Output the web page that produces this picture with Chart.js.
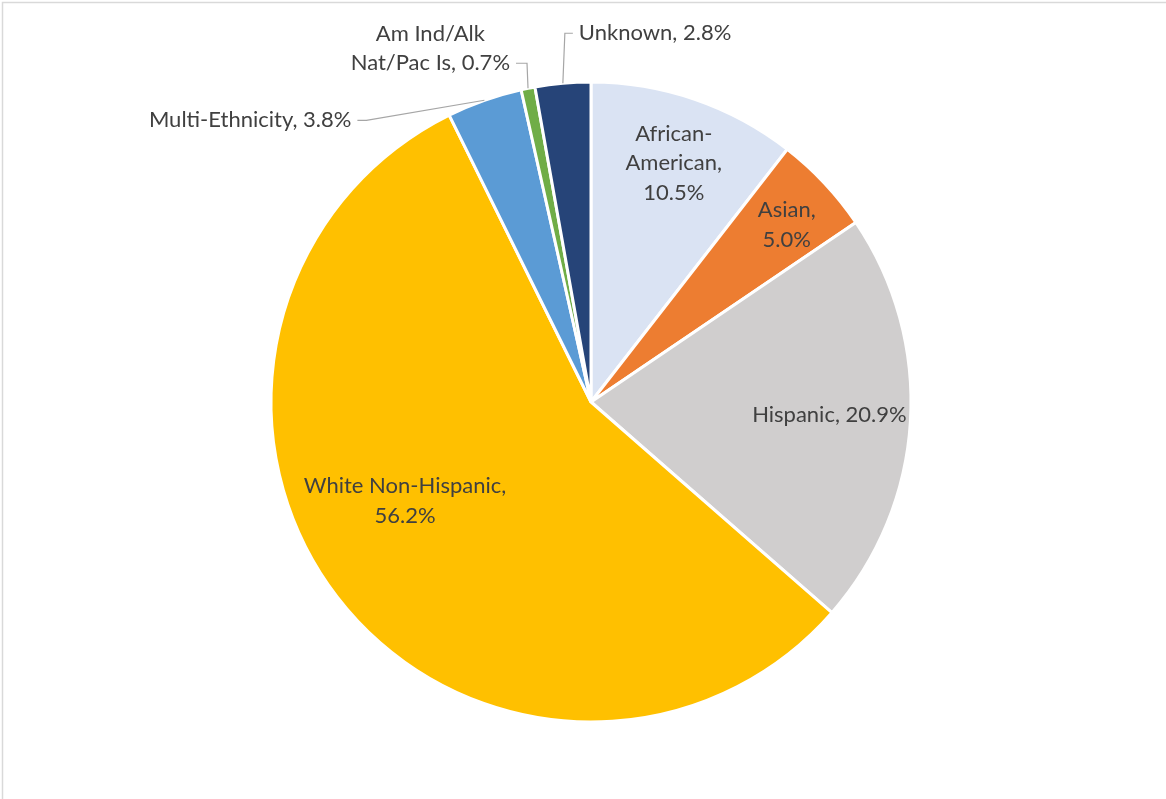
<!DOCTYPE html>
<html>
<head>
<meta charset="utf-8">
<script src="https://cdn.jsdelivr.net/npm/chart.js@4.4.1/dist/chart.umd.min.js"></script>
<style>
  html, body { margin: 0; padding: 0; background: #ffffff; }
  #wrap { position: relative; width: 1166px; height: 799px; }
  canvas { display: block; }
</style>
</head>
<body>
<div id="wrap"><canvas id="c" width="1166" height="799"></canvas></div>
<script>
// ---- Data ----
const categories = ["African-American", "Asian", "Hispanic", "White Non-Hispanic", "Multi-Ethnicity", "Am Ind/Alk Nat/Pac Is", "Unknown"];
const values = [10.5, 5.0, 20.9, 56.2, 3.8, 0.7, 2.8];
const colors = ["#DAE3F3", "#ED7D31", "#D0CECE", "#FFC000", "#5B9BD5", "#70AD47", "#264478"];

// ---- Label layout (style only) ----
// line templates: {v} is replaced with the value
const labelLines = [
  ["African-", "American,", "{v}"],
  ["Asian,", "{v}"],
  ["Hispanic, {v}"],
  ["White Non-Hispanic,", "{v}"],
  ["Multi-Ethnicity, {v}"],
  ["Am Ind/Alk", "Nat/Pac Is, {v}"],
  ["Unknown, {v}"]
];
// inside labels: radius fraction + angle tweak (deg); outside: leader + text offsets
const labelPlace = [
  { type: "in", r: 0.79, da: 0.2 },
  { type: "in", r: 0.825, da: 1.0 },
  { type: "in", r: 0.746, da: -0.5 },
  { type: "in", r: 0.658, da: 9.6 },
  { type: "out", elbow: [-118, 20], textEnd: [-131, 20], align: "right" },
  { type: "out", elbow: [-1, -25], textEnd: [-16, -25], align: "right" },
  { type: "out", elbow: [2, -50], textEnd: [14, -50], align: "left" }
];

const fontFamily = "Lato, 'Open Sans', sans-serif";
const fontSize = 22;
const lineH = 29.5;
const textColor = "#404040";

const frame = {
  id: "frame",
  beforeDraw(chart) {
    const ctx = chart.ctx;
    ctx.save();
    ctx.fillStyle = "#ffffff";
    ctx.fillRect(0, 0, chart.width, chart.height);
    ctx.strokeStyle = "#D9D9D9";
    ctx.lineWidth = 1.5;
    ctx.strokeRect(2.5, 2.5, chart.width + 20, chart.height + 20);
    ctx.restore();
  }
};

const pieLabels = {
  id: "pieLabels",
  afterDatasetsDraw(chart) {
    const ctx = chart.ctx;
    const meta = chart.getDatasetMeta(0);
    ctx.save();
    ctx.font = fontSize + "px " + fontFamily;
    ctx.fillStyle = textColor;
    ctx.textBaseline = "middle";
    meta.data.forEach((arc, i) => {
      const p = arc.getProps(["x", "y", "startAngle", "endAngle", "outerRadius"], true);
      const mid = (p.startAngle + p.endAngle) / 2;
      const place = labelPlace[i];
      const lines = labelLines[i].map(s => s.replace("{v}", values[i].toFixed(1) + "%"));
      if (place.type === "in") {
        const a = mid + place.da * Math.PI / 180;
        const cx = p.x + Math.cos(a) * p.outerRadius * place.r;
        const cy = p.y + Math.sin(a) * p.outerRadius * place.r;
        ctx.textAlign = "center";
        const y0 = cy - (lines.length - 1) * lineH / 2;
        lines.forEach((t, k) => ctx.fillText(t, cx, y0 + k * lineH));
      } else {
        const ex = p.x + Math.cos(mid) * p.outerRadius;
        const ey = p.y + Math.sin(mid) * p.outerRadius;
        const bx = ex + place.elbow[0], by = ey + place.elbow[1];
        const tx = ex + place.textEnd[0], ty = ey + place.textEnd[1];
        ctx.strokeStyle = "#A6A6A6";
        ctx.lineWidth = 1.2;
        ctx.beginPath();
        ctx.moveTo(ex, ey);
        ctx.lineTo(bx, by);
        ctx.lineTo(tx + (place.align === "right" ? 4 : -4), ty);
        ctx.stroke();
        ctx.textAlign = place.align;
        const textX = tx + (place.align === "right" ? -2 : 2);
        const last = lines.length - 1;
        lines.forEach((t, k) => {
          if (place.align === "right" && lines.length > 1 && k < last) {
            const wLast = ctx.measureText(lines[last]).width;
            ctx.textAlign = "center";
            ctx.fillText(t, textX - wLast / 2, ty - (last - k) * lineH);
            ctx.textAlign = place.align;
          } else {
            ctx.fillText(t, textX, ty - (last - k) * lineH);
          }
        });
      }
    });
    ctx.restore();
  }
};

new Chart(document.getElementById("c"), {
  type: "pie",
  data: {
    labels: categories,
    datasets: [{
      data: values,
      backgroundColor: colors,
      borderColor: "#ffffff",
      borderWidth: 3,
      radius: 320
    }]
  },
  options: {
    responsive: false,
    animation: false,
    layout: { padding: { left: 16, right: 0, top: 5, bottom: 0 } },
    plugins: {
      legend: { display: false },
      tooltip: { enabled: false }
    }
  },
  plugins: [frame, pieLabels]
});
</script>
</body>
</html>
